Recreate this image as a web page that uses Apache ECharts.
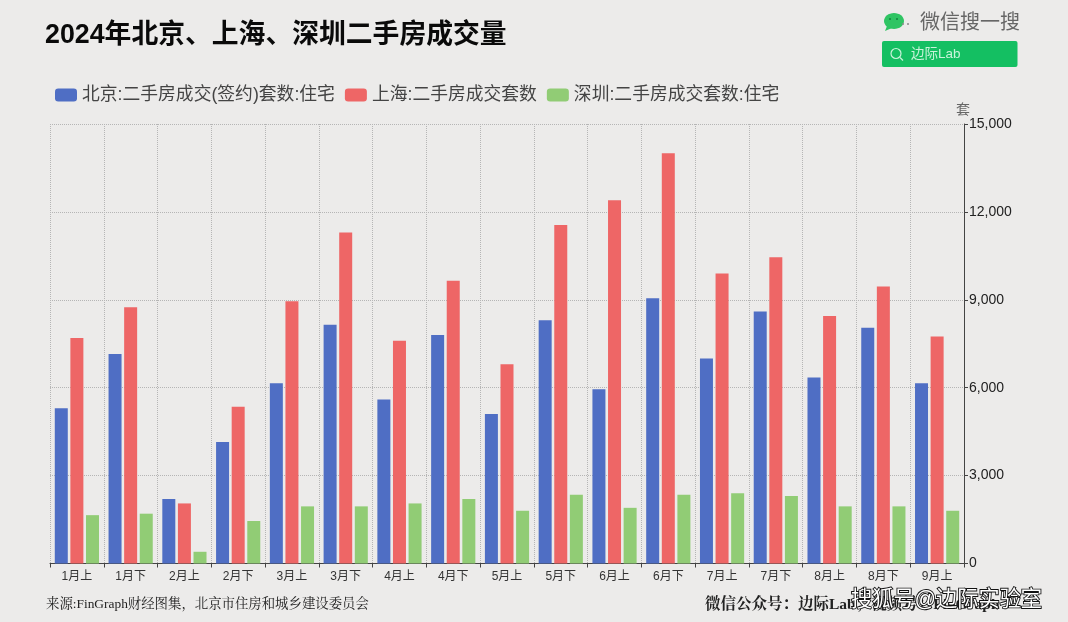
<!DOCTYPE html>
<html><head><meta charset="utf-8">
<style>html,body{margin:0;padding:0;background:#ecebea}#c{width:1068px;height:622px}</style>
<script src="https://cdn.jsdelivr.net/npm/echarts@6/dist/echarts.min.js"></script>
</head><body><div id="c"></div>
<script>
const categories=['1月上','1月下','2月上','2月下','3月上','3月下','4月上','4月下','5月上','5月下','6月上','6月下','7月上','7月下','8月上','8月下','9月上'];
const beijing=[5300,7150,2200,4150,6150,8150,5600,7800,5100,8300,5950,9050,7000,8600,6350,8050,6150];
const shanghai=[7700,8750,2050,5350,8950,11300,7600,9650,6800,11550,12400,14000,9900,10450,8450,9450,7750];
const shenzhen=[1650,1700,400,1450,1950,1950,2050,2200,1800,2350,1900,2350,2400,2300,1950,1950,1800];
const seriesNames=['北京:二手房成交(签约)套数:住宅','上海:二手房成交套数','深圳:二手房成交套数:住宅'];
const colors=['#4f6ec4','#ee6666','#91cc75'];
const sans='"Liberation Sans","Noto Sans CJK SC",sans-serif';
const serif='"Liberation Serif","Noto Serif CJK SC","Noto Sans CJK SC",serif';
const chart=echarts.init(document.getElementById('c'));
const mk=(i,d)=>({name:seriesNames[i],type:'bar',data:d,barWidth:13,barGap:'20%',itemStyle:{color:colors[i]},animation:false});
chart.setOption({
  backgroundColor:'#ecebea',animation:false,
  title:{text:'2024年北京、上海、深圳二手房成交量',left:40,top:17,textStyle:{fontFamily:sans,fontSize:26.8,fontWeight:'bold',color:'#0a0a0a'}},
  legend:{left:50,top:81,itemWidth:22,itemHeight:13,itemGap:10,icon:'roundRect',textStyle:{fontFamily:sans,fontSize:17.8,color:'#444'},data:seriesNames},
  grid:{left:50,right:104,top:124,bottom:58.5,show:false},
  xAxis:{type:'category',data:categories,
    axisLine:{lineStyle:{color:'#444'}},axisTick:{show:true,alignWithLabel:false,length:4,lineStyle:{color:'#444'}},
    axisLabel:{fontFamily:sans,fontSize:12,color:'#333',margin:7},
    splitLine:{show:true,lineStyle:{type:'dotted',color:'#b5b5b5'}}},
  yAxis:{type:'value',position:'right',min:0,max:15000,interval:3000,name:'套',nameGap:5,
    nameTextStyle:{fontFamily:sans,fontSize:14,color:'#666',align:'center',padding:[0,0,0,-2]},
    axisLine:{show:true,lineStyle:{color:'#444'}},axisTick:{show:true,length:4,lineStyle:{color:'#444'}},
    axisLabel:{fontFamily:sans,fontSize:14,color:'#222',margin:5,formatter:v=>v.toLocaleString('en-US')},
    splitLine:{show:true,lineStyle:{type:'dotted',color:'#b5b5b5'}}},
  series:[mk(0,beijing),mk(1,shanghai),mk(2,shenzhen)],
  graphic:[
    {type:'ellipse',shape:{cx:894,cy:21,rx:10,ry:8},style:{fill:'#2fc463'}},
    {type:'polygon',shape:{points:[[887,26],[885,31],[892,28]]},style:{fill:'#2fc463'}},
    {type:'circle',shape:{cx:890,cy:19,r:1},style:{fill:'#14803f'}},
    {type:'circle',shape:{cx:897,cy:19,r:1},style:{fill:'#14803f'}},
    {type:'circle',shape:{cx:903,cy:24,r:1},style:{fill:'#888'}},
    {type:'circle',shape:{cx:908,cy:24,r:1},style:{fill:'#888'}},
    {type:'text',style:{x:920,y:13,text:'微信搜一搜',fontFamily:sans,fontSize:20,fill:'#666'}},
    {type:'rect',shape:{x:882,y:41,width:135.5,height:26,r:2},style:{fill:'#14bf62'}},
    {type:'circle',shape:{cx:896,cy:53.5,r:5},style:{fill:'none',stroke:'#c9f3da',lineWidth:1.2}},
    {type:'line',shape:{x1:900,y1:57.5,x2:903,y2:60.5},style:{stroke:'#c9f3da',lineWidth:1.2}},
    {type:'text',style:{x:911,y:47.5,text:'边际Lab',fontFamily:sans,fontSize:13.5,fill:'#c9f3da'}},
    {type:'text',style:{x:46,y:597.5,text:'来源:FinGraph财经图集，北京市住房和城乡建设委员会',fontFamily:serif,fontSize:13.4,fill:'#222'}},
    {type:'text',style:{x:705,y:597,text:'微信公众号：边际Lab；视频号：FinGraph',fontFamily:serif,fontSize:15.5,fontWeight:'bold',fill:'#222'}},
    {type:'text',style:{x:851,y:590,text:'搜狐号@边际实验室',fontFamily:sans,fontSize:21.2,fill:'#fff',stroke:'#111',lineWidth:1.8}}
  ]
});
</script></body></html>
